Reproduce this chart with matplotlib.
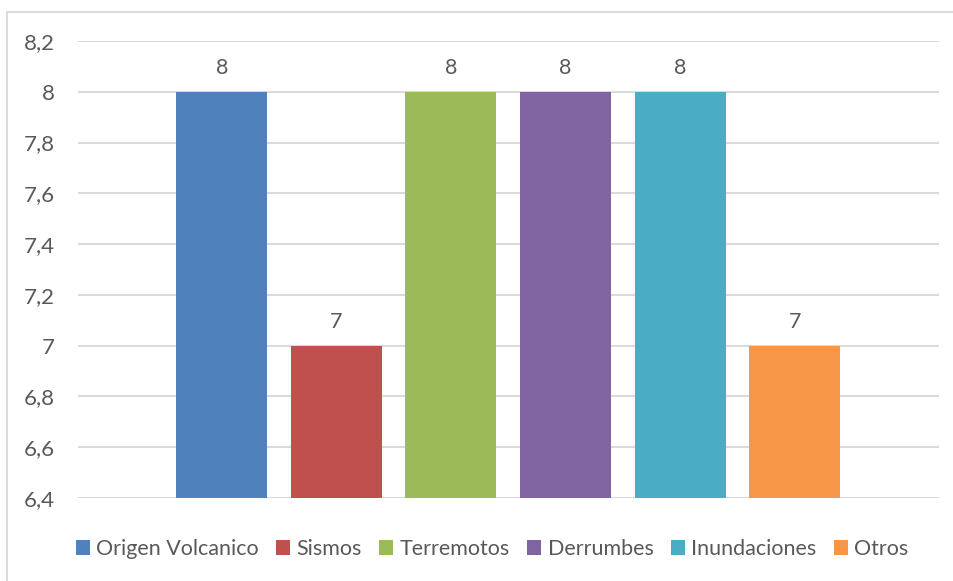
import matplotlib
matplotlib.use("Agg")
import matplotlib.pyplot as plt
from matplotlib.patches import Patch, Rectangle
from matplotlib.ticker import FuncFormatter, MultipleLocator

categories = ["Origen Volcanico", "Sismos", "Terremotos", "Derrumbes", "Inundaciones", "Otros"]
values = [8, 7, 8, 8, 8, 7]
colors = ["#4F81BD", "#C0504D", "#9BBB59", "#8064A2", "#4BACC6", "#F79646"]
y_min, y_max, y_step = 6.4, 8.2, 0.2

plt.rcParams["font.family"] = ["Lato", "DejaVu Sans"]
text_color = "#595959"
grid_color = "#D9D9D9"
fs = 15.5

W, H = 954, 581
fig = plt.figure(figsize=(W / 100, H / 100), dpi=100)

# outer chart frame
fig.patches.append(Rectangle((7 / W, -0.05), 1.2, 1 - 12 / H + 0.05, transform=fig.transFigure,
                             fill=False, edgecolor=grid_color, linewidth=1.3))

ax = fig.add_axes([78 / W, 1 - 498 / H, (939 - 78) / W, (498 - 41) / H])

x = list(range(len(categories)))
bars = ax.bar(x, [v - y_min for v in values], bottom=y_min, width=0.795, color=colors, zorder=3)

for xi, v in zip(x, values):
    ax.annotate(f"{v}", (xi, v), xytext=(0, 10), textcoords="offset points",
                ha="center", va="bottom", fontsize=fs, color=text_color)

ax.set_xlim(-1.255, 5 + 1.26)
ax.set_ylim(y_min, y_max)
ax.yaxis.set_major_locator(MultipleLocator(y_step))
ax.yaxis.set_major_formatter(FuncFormatter(lambda v, p: f"{v:.1f}".rstrip("0").rstrip(".").replace(".", ",")))
ax.tick_params(axis="y", length=0, pad=17, labelsize=16, labelcolor=text_color)
ax.set_xticks([])
for s in ax.spines.values():
    s.set_visible(False)
ax.grid(axis="y", color=grid_color, linewidth=1.4, zorder=0)
ax.set_axisbelow(True)

handles = [Patch(facecolor=c, edgecolor="none") for c in colors]
fig.legend(handles, categories, loc="center", bbox_to_anchor=(492 / W, 1 - 549 / H), ncol=6,
           frameon=False, fontsize=fs, labelcolor=text_color,
           handlelength=0.65, handleheight=0.65, handletextpad=0.3, columnspacing=0.8)

fig.savefig("out.png", dpi=100)
